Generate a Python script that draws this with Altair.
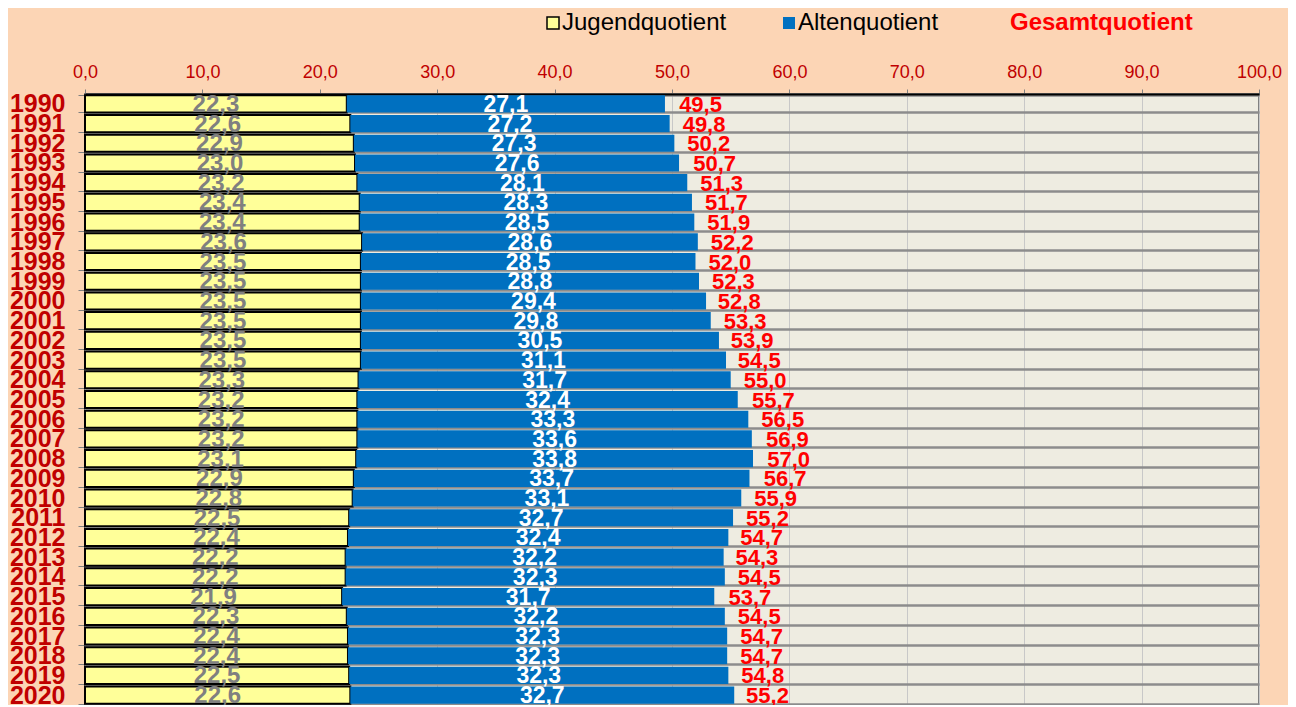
import altair as alt
import pandas as pd

years = [str(y) for y in range(1990, 2021)]
jugend = [22.3, 22.6, 22.9, 23.0, 23.2, 23.4, 23.4, 23.6, 23.5, 23.5,
          23.5, 23.5, 23.5, 23.5, 23.3, 23.2, 23.2, 23.2, 23.1, 22.9,
          22.8, 22.5, 22.4, 22.2, 22.2, 21.9, 22.3, 22.4, 22.4, 22.5, 22.6]
alten = [27.1, 27.2, 27.3, 27.6, 28.1, 28.3, 28.5, 28.6, 28.5, 28.8,
         29.4, 29.8, 30.5, 31.1, 31.7, 32.4, 33.3, 33.6, 33.8, 33.7,
         33.1, 32.7, 32.4, 32.2, 32.3, 31.7, 32.2, 32.3, 32.3, 32.3, 32.7]
gesamt = [49.5, 49.8, 50.2, 50.7, 51.3, 51.7, 51.9, 52.2, 52.0, 52.3,
          52.8, 53.3, 53.9, 54.5, 55.0, 55.7, 56.5, 56.9, 57.0, 56.7,
          55.9, 55.2, 54.7, 54.3, 54.5, 53.7, 54.5, 54.7, 54.7, 54.8, 55.2]
series = ["Jugendquotient", "Altenquotient", "Gesamtquotient"]
x_ticks = [0, 10, 20, 30, 40, 50, 60, 70, 80, 90, 100]

df = pd.DataFrame({"year": years, "jugend": jugend, "alten": alten, "gesamt": gesamt})

FONT = "Liberation Sans"
fmt = "replace(format({f}, '.1f'), '.', ',')"

y_enc = alt.Y(
    "year:O", sort=years, title=None,
    scale=alt.Scale(paddingInner=0.13, paddingOuter=0.065),
    axis=alt.Axis(
        tickBand="extent", grid=True, gridColor="#8C8C8C", gridWidth=2.5,
        ticks=True, tickColor="#808080", tickSize=7, domain=False,
        labelFont=FONT, labelFontSize=25, labelFontWeight="bold",
        labelColor="#C00000", labelPadding=13,
    ),
)

x_scale = alt.Scale(domain=[0, 100], nice=False)
x_axis = alt.Axis(
    orient="top", values=x_ticks, title=None, grid=True, gridColor="#C8C8C8",
    gridWidth=1, domainColor="black", domainWidth=2, tickColor="#808080",
    tickSize=5, labelFont=FONT, labelFontSize=18, labelColor="#C00000",
    labelPadding=8, labelFlush=False, labelExpr=fmt.format(f="datum.value"),
)

legend = alt.Legend(
    orient="none", legendX=456, legendY=-83, direction="horizontal", padding=0,
    title=None, symbolType="square", symbolSize=144, symbolStrokeWidth=1.5,
    symbolStrokeColor={"expr": "datum.label === 'Jugendquotient' ? 'black' : 'transparent'"},
    labelFont=FONT, labelFontSize=24,
    labelColor={"expr": "datum.label === 'Gesamtquotient' ? '#FF0000' : 'black'"},
    labelFontWeight={"expr": "datum.label === 'Gesamtquotient' ? 'bold' : 'normal'"},
    labelOffset={"expr": "-3"}, columnPadding=50, labelLimit=400,
)
color_scale = alt.Scale(domain=series, range=["#FFFF99", "#0070C0", "rgba(0,0,0,0)"])

base = alt.Chart(df).transform_calculate(
    end="datum.jugend + datum.alten",
    jmid="datum.jugend / 2",
    amid="datum.jugend + datum.alten / 2",
    jl=fmt.format(f="datum.jugend"),
    al=fmt.format(f="datum.alten"),
    gl=fmt.format(f="datum.gesamt"),
)

yellow = base.transform_calculate(s="'Jugendquotient'").mark_bar(
    stroke="black", strokeWidth=2).encode(
    y=y_enc,
    x=alt.X("jugend:Q", scale=x_scale, axis=x_axis),
    x2=alt.datum(0),
    color=alt.Color("s:N", scale=color_scale, legend=legend),
)
blue = base.transform_calculate(s="'Altenquotient'").mark_bar().encode(
    y=y_enc,
    x=alt.X("jugend:Q", scale=x_scale, axis=x_axis),
    x2="end:Q",
    color=alt.Color("s:N", scale=color_scale, legend=legend),
)
gray_txt = base.mark_text(font=FONT, fontSize=24, fontWeight="bold", color="#808080",
                          align="center", baseline="middle", dy=1).encode(
    y=y_enc, x=alt.X("jmid:Q", scale=x_scale), text="jl:N")
white_txt = base.mark_text(font=FONT, fontSize=23, fontWeight="bold", color="white",
                           align="center", baseline="middle", dy=1).encode(
    y=y_enc, x=alt.X("amid:Q", scale=x_scale), text="al:N")
red_txt = base.mark_text(font=FONT, fontSize=22, fontWeight="bold", color="#FF0000",
                         align="left", baseline="middle", dx=13, dy=1).encode(
    y=y_enc, x=alt.X("gesamt:Q", scale=x_scale), text="gl:N")

chart = alt.layer(yellow, blue, gray_txt, white_txt, red_txt).properties(
    width=1174, height=611,
    autosize=alt.AutoSizeParams(type="none"),
    padding={"left": 77, "top": 86, "right": 29, "bottom": 0},
    background="#FCD5B5",
).configure_view(
    fill="#EEECE1", stroke="#808080", strokeWidth=2,
)

chart.save("out.html", embed_options={"renderer": "svg", "actions": False})
